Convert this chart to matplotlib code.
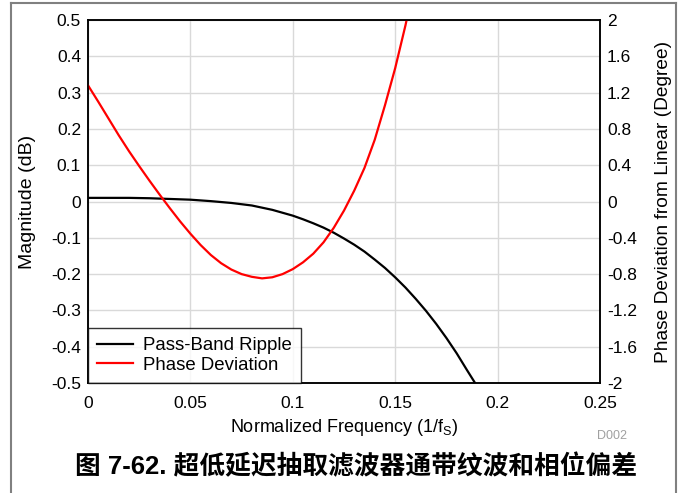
import matplotlib
matplotlib.use("Agg")
import matplotlib.pyplot as plt
from matplotlib.lines import Line2D

plt.rcParams['font.family'] = ['Liberation Sans', 'Noto Sans CJK SC', 'DejaVu Sans']
plt.rcParams['axes.unicode_minus'] = False

# ---- datos ----
freq_mag = [0.000, 0.010, 0.020, 0.030, 0.040, 0.050, 0.060, 0.070, 0.080, 0.085,
            0.090, 0.095, 0.100, 0.105, 0.110, 0.115, 0.120, 0.125, 0.130, 0.135,
            0.140, 0.145, 0.150, 0.155, 0.160, 0.165, 0.170, 0.175, 0.180, 0.185,
            0.189]
ripple_db = [0.010, 0.010, 0.010, 0.009, 0.007, 0.005, 0.001, -0.004, -0.011, -0.017,
             -0.023, -0.031, -0.039, -0.049, -0.060, -0.072, -0.086, -0.102, -0.119, -0.138,
             -0.160, -0.183, -0.209, -0.237, -0.268, -0.301, -0.337, -0.376, -0.418, -0.464,
             -0.500]

freq_ph = [0.000, 0.005, 0.010, 0.015, 0.020, 0.025, 0.030, 0.035, 0.040, 0.045,
           0.050, 0.055, 0.060, 0.065, 0.070, 0.075, 0.080, 0.085, 0.090, 0.095,
           0.100, 0.105, 0.110, 0.115, 0.120, 0.125, 0.130, 0.135, 0.140, 0.145,
           0.150, 0.155, 0.1575]
phase_deg = [1.28, 1.10, 0.915, 0.73, 0.555, 0.39, 0.23, 0.075, -0.075, -0.22,
             -0.355, -0.48, -0.59, -0.68, -0.75, -0.80, -0.83, -0.847, -0.835, -0.80,
             -0.745, -0.67, -0.575, -0.45, -0.29, -0.10, 0.12, 0.37, 0.68, 1.06,
             1.47, 1.94, 2.20]

xticks = [0, 0.05, 0.1, 0.15, 0.2, 0.25]
xtick_labels = ['0', '0.05', '0.1', '0.15', '0.2', '0.25']
yticks = [0.5, 0.4, 0.3, 0.2, 0.1, 0, -0.1, -0.2, -0.3, -0.4, -0.5]
ytick_labels = ['0.5', '0.4', '0.3', '0.2', '0.1', '0', '-0.1', '-0.2', '-0.3', '-0.4', '-0.5']
y2ticks = [2, 1.6, 1.2, 0.8, 0.4, 0, -0.4, -0.8, -1.2, -1.6, -2]
y2tick_labels = ['2', '1.6', '1.2', '0.8', '0.4', '0', '-0.4', '-0.8', '-1.2', '-1.6', '-2']

titulo = '图 7-62. 超低延迟抽取滤波器通带纹波和相位偏差'

# ---- figura ----
fig = plt.figure(figsize=(6.8, 4.93), dpi=100)
ax = fig.add_axes([88/680, 1 - 383/493, 512/680, 363/493])
ax2 = ax.twinx()

l1, = ax.plot(freq_mag, ripple_db, color='black', lw=1.6, label='Pass-Band Ripple')
l2, = ax2.plot(freq_ph, phase_deg, color='#ff0000', lw=1.6, label='Phase Deviation')

ax.set_xlim(0, 0.25)
ax.set_ylim(-0.5, 0.5)
ax2.set_ylim(-2, 2)
ax.set_xticks(xticks)
ax.set_xticklabels(xtick_labels)
ax.set_yticks(yticks)
ax.set_yticklabels(ytick_labels)
ax2.set_yticks(y2ticks)
ax2.set_yticklabels(y2tick_labels)

ax.grid(True, color='#d9d9d9', lw=1.0)
ax.set_axisbelow(True)
ax.tick_params(axis='both', length=0, labelsize=12.5)
ax.tick_params(axis='x', pad=9)
ax.tick_params(axis='y', pad=5)
ax2.tick_params(axis='y', length=0, labelsize=12.5, pad=5)
for a in (ax, ax2):
    for s in a.spines.values():
        s.set_color('black')
        s.set_linewidth(1.1)

ax.set_xlabel(r'Normalized Frequency (1/f$_\mathregular{S}$)', fontsize=13, labelpad=5)
ax.set_ylabel('Magnitude (dB)', fontsize=14, labelpad=11)
ax2.set_ylabel('Phase Deviation from Linear (Degree)', fontsize=13.8, labelpad=13)

leg = ax2.legend(handles=[l1, l2], loc='lower left', fontsize=13.4, frameon=True,
                 fancybox=False, borderaxespad=0, handlelength=1.9,
                 handletextpad=0.55, borderpad=0.5, labelspacing=0.13)
leg.get_frame().set_edgecolor('black')
leg.get_frame().set_linewidth(1.0)

fig.text(612/680, 1 - 436/493, 'D002', fontsize=9, color='#a0a0a0', ha='center', va='center')
fig.text(356/680, 1 - 466/493, titulo, fontsize=18.5, fontweight='bold', ha='center', va='center')

# marco gris
for xs, ys in [([11/680, 11/680], [0, 1 - 3/493]),
               ([11/680, 676/680], [1 - 3/493, 1 - 3/493]),
               ([676/680, 676/680], [0, 1 - 3/493])]:
    fig.add_artist(Line2D(xs, ys, color='#808080', lw=1.5, transform=fig.transFigure))

fig.savefig('out.png', dpi=100)
